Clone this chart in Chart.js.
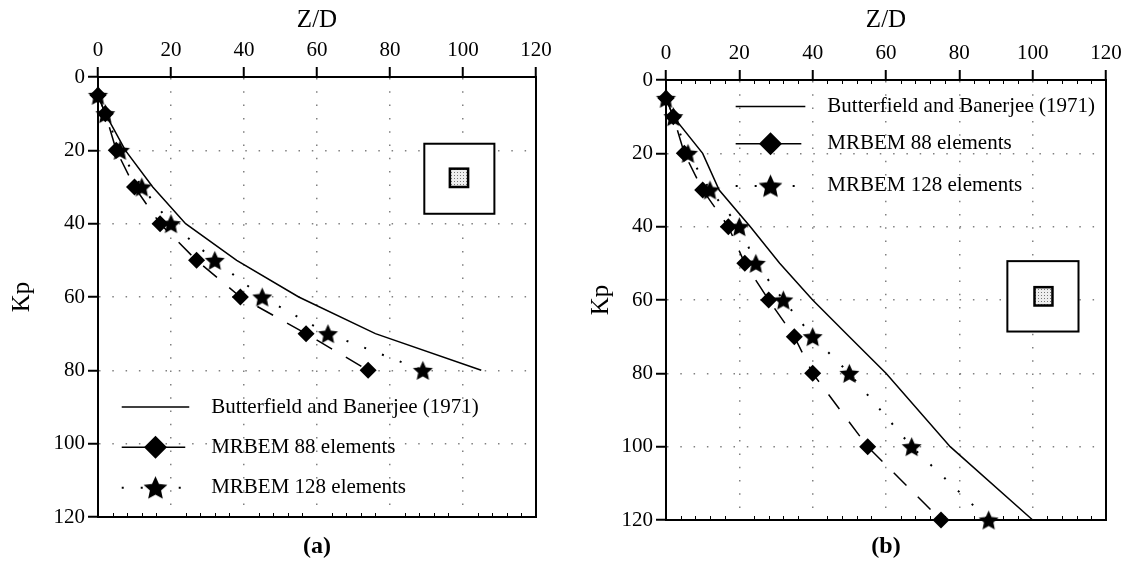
<!DOCTYPE html>
<html>
<head>
<meta charset="utf-8">
<script src="https://cdn.jsdelivr.net/npm/chart.js@4/dist/chart.umd.min.js"></script>
<style>
  body { margin: 0; background: #fff; width: 1132px; height: 562px; overflow: hidden; position: relative; }
  .panel { position: absolute; top: 0; width: 566px; height: 562px; }
</style>
</head>
<body>
<div class="panel" style="left:0"><canvas id="chartA" width="566" height="562"></canvas></div>
<div class="panel" style="left:566px"><canvas id="chartB" width="566" height="562"></canvas></div>
<script>
// ---- data (Kp on the vertical axis, Z/D horizontal) ----
const kpA = [5, 10, 20, 30, 40, 50, 60, 70, 80];
const butterfieldA = [0, 2, 7.5, 15, 24, 38, 55, 76, 105];
const mrbem88A = [0, 2, 5, 10, 17, 27, 39, 57, 74];
const mrbem128A = [0, 2, 6, 12, 20, 32, 45, 63, 89];

const kpB = [5, 10, 20, 30, 40, 50, 60, 70, 80, 100, 120];
const butterfieldB = [0, 2, 10, 14.5, 23, 31, 40, 50, 60, 77.5, 100];
const mrbem88B = [0, 2, 5, 10, 17, 21.5, 28, 35, 40, 55, 75];
const mrbem128B = [0, 2, 6, 12, 20, 24.5, 32, 40, 50, 67, 88];

const seriesNames = ['Butterfield and Banerjee (1971)', 'MRBEM 88 elements', 'MRBEM 128 elements'];
const axisTicks = [0, 20, 40, 60, 80, 100, 120];

const SERIF = '"Liberation Serif", "Times New Roman", serif';
Chart.defaults.font.family = SERIF;
Chart.defaults.color = '#000';

// filled five point star used as marker
function makeStar(r) {
    const c = document.createElement('canvas');
    c.width = c.height = Math.ceil(r * 2) + 2;
    const g = c.getContext('2d');
    g.fillStyle = '#000';
    g.beginPath();
    for (let i = 0; i < 10; i++) {
        const rad = i % 2 ? r * 0.47 : r;
        const a = -Math.PI / 2 + i * Math.PI / 5;
        g.lineTo(c.width / 2 + rad * Math.cos(a), c.height / 2 + 1 + rad * Math.sin(a));
    }
    g.closePath();
    g.fill();
    return c;
}
const starSmall = makeStar(10.5);
const starLegend = makeStar(12.5);

// dotted fill for the little pile cap
function makeDots() {
    const c = document.createElement('canvas');
    c.width = c.height = 3;
    const g = c.getContext('2d');
    g.fillStyle = '#eee';
    g.fillRect(0, 0, 3, 3);
    g.fillStyle = '#777';
    g.fillRect(1, 1, 1, 1);
    return c;
}
const dotCanvas = makeDots();

function toPoints(xs, ys) {
    return xs.map((x, i) => ({ x: x, y: ys[i] }));
}

// draws frame, minor ticks, inset sketch, legend and panel label
const decorPlugin = {
    id: 'decor',
    afterDatasetsDraw(chart) {
        const o = chart.options.plugins.decor;
        const ctx = chart.ctx;
        const a = chart.chartArea;
        const sx = chart.scales.x, sy = chart.scales.y;
        ctx.save();

        // minor ticks
        ctx.strokeStyle = '#000';
        ctx.lineWidth = 1;
        for (let v = 4; v < 120; v += 4) {
            if (v % 20 === 0) continue;
            const px = Math.round(sx.getPixelForValue(v)) + 0.5;
            ctx.beginPath();
            ctx.moveTo(px, a.bottom); ctx.lineTo(px, a.bottom - 4);
            if (o.minorTop) { ctx.moveTo(px, a.top); ctx.lineTo(px, a.top + 4); }
            ctx.stroke();
        }

        // frame
        ctx.lineWidth = 2;
        ctx.strokeRect(a.left, a.top, a.right - a.left, a.bottom - a.top);

        // inset: square domain with pile cap
        const bx1 = sx.getPixelForValue(o.inset.x[0]), bx2 = sx.getPixelForValue(o.inset.x[1]);
        const by1 = sy.getPixelForValue(o.inset.y[0]), by2 = sy.getPixelForValue(o.inset.y[1]);
        ctx.fillStyle = '#fff';
        ctx.fillRect(bx1, by1, bx2 - bx1, by2 - by1);
        ctx.strokeRect(bx1, by1, bx2 - bx1, by2 - by1);
        const ix1 = sx.getPixelForValue(o.inset.ix[0]), ix2 = sx.getPixelForValue(o.inset.ix[1]);
        const iy1 = sy.getPixelForValue(o.inset.iy[0]), iy2 = sy.getPixelForValue(o.inset.iy[1]);
        ctx.fillStyle = ctx.createPattern(dotCanvas, 'repeat');
        ctx.fillRect(ix1, iy1, ix2 - ix1, iy2 - iy1);
        ctx.lineWidth = 2.5;
        ctx.strokeRect(ix1, iy1, ix2 - ix1, iy2 - iy1);

        // legend
        const lx1 = sx.getPixelForValue(o.legend.lineX[0]);
        const lx2 = sx.getPixelForValue(o.legend.lineX[1]);
        const tx = sx.getPixelForValue(o.legend.textX);
        const dashes = [[], [], [2, 17]];
        chart.data.datasets.forEach((ds, i) => {
            const y = sy.getPixelForValue(o.legend.rows[i]);
            ctx.lineWidth = ds.borderWidth;
            ctx.setLineDash(dashes[i]);
            ctx.beginPath();
            ctx.moveTo(lx1, y); ctx.lineTo(i === 1 ? lx2 - 4 : lx2, y);
            ctx.stroke();
            ctx.setLineDash([]);
            const cx = (lx1 + lx2) / 2;
            if (i === 1) {
                ctx.fillStyle = '#000';
                ctx.beginPath();
                ctx.moveTo(cx, y - 11.5); ctx.lineTo(cx + 11.5, y);
                ctx.lineTo(cx, y + 11.5); ctx.lineTo(cx - 11.5, y);
                ctx.closePath(); ctx.fill();
            } else if (i === 2) {
                ctx.drawImage(starLegend, cx - starLegend.width / 2, y - starLegend.height / 2);
            }
            ctx.fillStyle = '#000';
            ctx.font = '21px ' + SERIF;
            ctx.textAlign = 'left';
            ctx.textBaseline = 'middle';
            ctx.fillText(ds.label, tx, y);
        });

        // panel label
        ctx.font = 'bold 24px ' + SERIF;
        ctx.textAlign = 'center';
        ctx.textBaseline = 'middle';
        ctx.fillText(o.label, (a.left + a.right) / 2, o.labelY);
        ctx.restore();
    }
};

function makeChart(id, kp, bf, m88, m128, cfg) {
    const gridOpts = { color: '#808080', lineWidth: 1.5, tickColor: '#000', tickWidth: 2, tickLength: 10 };
    const borderOpts = { color: '#000', width: 2, dash: [1.5, 11.8] };
    return new Chart(document.getElementById(id), {
        type: 'scatter',
        data: {
            datasets: [{
                label: seriesNames[0],
                data: toPoints(bf, kp),
                showLine: true,
                borderColor: '#000',
                borderWidth: 1.5,
                pointRadius: 0,
                clip: false
            }, {
                label: seriesNames[1],
                data: toPoints(m88, kp),
                showLine: true,
                borderColor: '#000',
                borderWidth: 1.5,
                borderDash: [18, 16],
                pointStyle: 'rectRot',
                pointRadius: 8.5,
                backgroundColor: '#000',
                pointBorderWidth: 0,
                clip: false
            }, {
                label: seriesNames[2],
                data: toPoints(m128, kp),
                showLine: true,
                borderColor: '#000',
                borderWidth: 2,
                borderDash: [2, 17],
                pointStyle: starSmall,
                clip: false
            }]
        },
        options: {
            responsive: false,
            animation: false,
            events: [],
            devicePixelRatio: 1,
            layout: { padding: cfg.padding },
            scales: {
                x: {
                    type: 'linear', position: 'top', min: 0, max: 120,
                    afterBuildTicks: s => { s.ticks = axisTicks.map(v => ({ value: v })); },
                    ticks: { color: '#000', font: { size: 21 }, padding: 4 },
                    grid: gridOpts,
                    border: borderOpts,
                    title: { display: true, text: 'Z/D', color: '#000', font: { size: 25 }, padding: { top: 5, bottom: 0 } },
                    afterFit: s => { s.height = cfg.axisTop; }
                },
                y: {
                    type: 'linear', position: 'left', reverse: true, min: 0, max: 120,
                    afterBuildTicks: s => { s.ticks = axisTicks.map(v => ({ value: v })); },
                    ticks: { color: '#000', font: { size: 21 }, padding: 3 },
                    grid: gridOpts,
                    border: borderOpts,
                    title: { display: true, text: 'Kp', color: '#000', font: { size: 25 }, padding: { top: cfg.kpPad, bottom: 0 } },
                    afterFit: s => { s.width = cfg.axisLeft; }
                }
            },
            plugins: {
                legend: { display: false },
                tooltip: { enabled: false },
                decor: cfg.decor
            }
        },
        plugins: [decorPlugin]
    });
}

makeChart('chartA', kpA, butterfieldA, mrbem88A, mrbem128A, {
    padding: { left: 0, top: 0, right: 30, bottom: 45 },
    axisTop: 77, axisLeft: 98, kpPad: 7,
    decor: {
        minorTop: false,
        label: '(a)', labelY: 547,
        inset: { x: [89.4, 108.6], y: [18.2, 37.3], ix: [96.4, 101.4], iy: [25, 30] },
        legend: { lineX: [6.5, 25], textX: 31, rows: [90, 101, 112] }
    }
});

makeChart('chartB', kpB, butterfieldB, mrbem88B, mrbem128B, {
    padding: { left: 0, top: 0, right: 26, bottom: 42 },
    axisTop: 80, axisLeft: 100, kpPad: 20,
    decor: {
        minorTop: true,
        label: '(b)', labelY: 547,
        inset: { x: [93.1, 112.5], y: [49.4, 68.6], ix: [100.5, 105.4], iy: [56.5, 61.5] },
        legend: { lineX: [19, 38], textX: 44, rows: [7.2, 17.4, 28.9] }
    }
});
</script>
</body>
</html>
